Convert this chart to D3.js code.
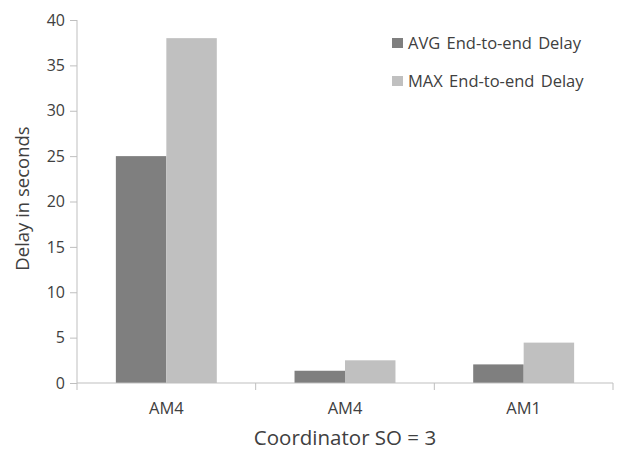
<!DOCTYPE html>
<html>
<head>
<meta charset="utf-8">
<script src="https://cdn.jsdelivr.net/npm/d3@7"></script>
<style>
  html, body { margin: 0; padding: 0; background: #fff; }
  svg text { font-family: "Open Sans", "Noto Sans", sans-serif; fill: #404040; }
</style>
</head>
<body>
<svg id="chart" width="638" height="451"></svg>
<script>
// Delay measurements per access mechanism
const categories = ["AM4", "AM4 ", "AM1"];
const seriesNames = ["AVG End-to-end Delay", "MAX End-to-end Delay"];
const avgDelay = [25, 1.35, 2.05];
const maxDelay = [38, 2.5, 4.45];
const yTicks = [0, 5, 10, 15, 20, 25, 30, 35, 40];
const seriesColors = ["#7f7f7f", "#c0c0c0"];

const svg = d3.select("#chart");
const margin = { left: 77, right: 25, top: 20, bottom: 68 };
const width = 638, height = 451;
const plotW = width - margin.left - margin.right;
const plotH = height - margin.top - margin.bottom;

const x0 = d3.scaleBand().domain(categories).range([0, plotW]).paddingInner(0).paddingOuter(0);
const x1 = d3.scaleBand().domain(seriesNames).range([0, x0.bandwidth()]).paddingInner(0).paddingOuter(0.77);
const y = d3.scaleLinear().domain([0, 40]).range([plotH, 0]);
const color = d3.scaleOrdinal().domain(seriesNames).range(seriesColors);

const g = svg.append("g").attr("transform", `translate(${margin.left},${margin.top})`);

// Bars
const rows = categories.map((c, i) => ({ cat: c, values: [avgDelay[i], maxDelay[i]] }));
const groups = g.selectAll(".grp").data(rows).join("g")
  .attr("class", "grp")
  .attr("transform", d => `translate(${x0(d.cat)},0)`);
groups.selectAll("rect").data(d => d.values.map((v, j) => ({ name: seriesNames[j], v })))
  .join("rect")
  .attr("x", d => x1(d.name))
  .attr("width", x1.bandwidth())
  .attr("y", d => y(d.v))
  .attr("height", d => y(0) - y(d.v))
  .attr("fill", d => color(d.name));

// Y axis
const yAxis = g.append("g").call(d3.axisLeft(y).tickValues(yTicks).tickSize(7).tickPadding(5));
yAxis.select(".domain").attr("stroke", "#bfbfbf").attr("d", `M0,${plotH + 7}V0`);
yAxis.selectAll(".tick line").attr("stroke", "#bfbfbf");
yAxis.selectAll(".tick text").style("font-size", "16px").attr("fill", "#404040");

// X axis: ticks at category boundaries
const xAxisG = g.append("g").attr("transform", `translate(0,${plotH})`);
xAxisG.append("line").attr("x1", 0).attr("x2", plotW).attr("stroke", "#bfbfbf");
const bounds = categories.map(c => x0(c) + x0.bandwidth());
xAxisG.selectAll(".bt").data(bounds).join("line")
  .attr("x1", d => d).attr("x2", d => d).attr("y1", 0).attr("y2", 7)
  .attr("stroke", "#bfbfbf");
xAxisG.selectAll(".cl").data(categories).join("text")
  .attr("x", d => x0(d) + x0.bandwidth() / 2)
  .attr("y", 31)
  .attr("text-anchor", "middle")
  .style("font-size", "16.5px")
  .text(d => d.trim());

// Axis titles
svg.append("text")
  .attr("x", margin.left + plotW / 2)
  .attr("y", 445)
  .attr("text-anchor", "middle")
  .style("font-size", "20.5px")
  .text("Coordinator SO = 3");
svg.append("text")
  .attr("transform", `translate(29,${margin.top + plotH / 2 - 3}) rotate(-90)`)
  .attr("text-anchor", "middle")
  .style("font-size", "18.5px")
  .text("Delay in seconds");

// Legend
const legend = svg.append("g").attr("transform", "translate(392,38)");
const li = legend.selectAll("g").data(seriesNames).join("g")
  .attr("transform", (d, i) => `translate(0,${i * 38})`);
li.append("rect").attr("width", 11).attr("height", 10).attr("fill", d => color(d));
li.append("text").attr("x", 16).attr("y", 11)
  .style("font-size", "16.5px").style("word-spacing", "2px")
  .text(d => d);
</script>
</body>
</html>
